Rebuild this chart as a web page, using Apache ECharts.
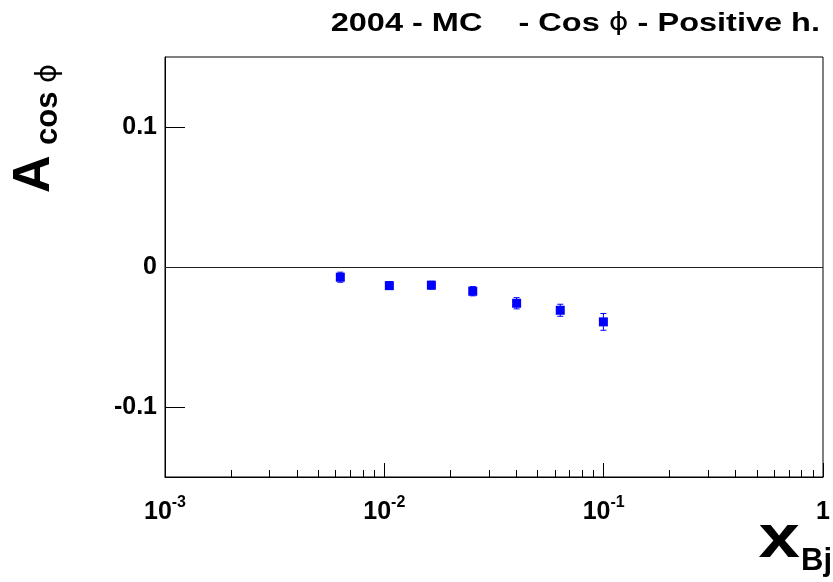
<!DOCTYPE html>
<html>
<head>
<meta charset="utf-8">
<script src="https://cdn.jsdelivr.net/npm/echarts@6/dist/echarts.min.js"></script>
<style>
html,body{margin:0;padding:0;background:#fff;}
#chart{width:833px;height:582px;}
</style>
</head>
<body>
<div id="chart"></div>
<script>
// ---- data ----
var xValues = [0.0063, 0.01054, 0.01639, 0.0253, 0.0401, 0.0634, 0.0997];
var yValues = [-0.0073, -0.0133, -0.0130, -0.0173, -0.0259, -0.0309, -0.0392];
var yErrors = [0.0036, 0.0028, 0.0028, 0.0033, 0.0040, 0.0043, 0.0060];

var xTickValues = [0.001, 0.01, 0.1, 1];
var xTickExponents = [-3, -2, -1, 0];
var xMinorTickValues = [
  0.002, 0.003, 0.004, 0.005, 0.006, 0.007, 0.008, 0.009,
  0.02, 0.03, 0.04, 0.05, 0.06, 0.07, 0.08, 0.09,
  0.2, 0.3, 0.4, 0.5, 0.6, 0.7, 0.8, 0.9
];
var yTickValues = [-0.1, 0, 0.1];
var yTickLabels = ['-0.1', '0', '0.1'];

var titleLeft = '2004 - MC    - Cos ';
var titlePhi = '\u03D5';
var titleRight = ' - Positive h.';
var yNameMain = 'A';
var yNameSub = 'cos ';
var yNamePhi = '\u03D5';
var xNameMain = 'x';
var xNameSub = 'Bj';

var FONT = '"Liberation Sans", Arial, Helvetica, sans-serif';
var PHIFONT = '"DejaVu Sans", "Liberation Sans", sans-serif';

var chart = echarts.init(document.getElementById('chart'), null, {renderer: 'canvas'});

var option = {
  backgroundColor: '#ffffff',
  animation: false,
  grid: {
    left: 165, right: 10, top: 57, bottom: 105,
    show: true, borderColor: '#000', borderWidth: 1, backgroundColor: 'transparent'
  },
  xAxis: [{
    type: 'log', logBase: 10, min: 0.001, max: 1,
    position: 'bottom',
    axisLine: {show: true, onZero: false, lineStyle: {color: '#000', width: 1}},
    axisTick: {show: true, inside: true, length: 14, customValues: xTickValues, lineStyle: {color: '#000', width: 1}},
    minorTick: {show: false},
    splitLine: {show: false},
    axisLabel: {
      show: true, margin: 18, customValues: xTickValues,
      formatter: function (v) {
        var i = -1;
        for (var k = 0; k < xTickValues.length; k++) {
          if (Math.abs(Math.log10(xTickValues[k]) - Math.log10(v)) < 1e-6) i = k;
        }
        var e = i >= 0 ? xTickExponents[i] : Math.round(Math.log10(v));
        if (e === 0) return '{b|1}';
        return '{b|10}{s|' + e + '}';
      },
      rich: {
        b: {fontFamily: FONT, fontWeight: 'bold', fontSize: 25, color: '#000', lineHeight: 30, verticalAlign: 'bottom'},
        s: {fontFamily: FONT, fontWeight: 'bold', fontSize: 16, color: '#000', lineHeight: 30, verticalAlign: 'top'}
      }
    }
  }, {
    type: 'log', logBase: 10, min: 0.001, max: 1,
    position: 'bottom',
    axisLine: {show: false, onZero: false},
    axisTick: {show: true, inside: true, length: 7, customValues: xMinorTickValues, lineStyle: {color: '#000', width: 1}},
    axisLabel: {show: false},
    splitLine: {show: false}
  }],
  yAxis: {
    type: 'value', min: -0.15, max: 0.15,
    axisLine: {show: true, onZero: false, lineStyle: {color: '#000', width: 1}},
    axisTick: {show: true, inside: true, length: 20, customValues: yTickValues, lineStyle: {color: '#000', width: 1}},
    splitLine: {show: false},
    axisLabel: {
      show: true, margin: 8, customValues: yTickValues,
      formatter: function (v) {
        var i = yTickValues.findIndex(function (t) { return Math.abs(t - v) < 1e-9; });
        return i >= 0 ? yTickLabels[i] : '';
      },
      fontFamily: FONT, fontWeight: 'bold', fontSize: 25, color: '#000'
    }
  },
  series: [{
    type: 'custom',
    xAxisIndex: 0,
    data: xValues.map(function (x, i) { return [x, yValues[i], yErrors[i]]; }),
    renderItem: function (params, api) {
      var x = api.value(0), y = api.value(1), e = api.value(2);
      var top = api.coord([x, y + e]);
      var bot = api.coord([x, y - e]);
      var st = {stroke: '#0000ff', lineWidth: 1};
      return {
        type: 'group',
        children: [
          {type: 'line', shape: {x1: top[0], y1: top[1], x2: bot[0], y2: bot[1]}, style: st},
          {type: 'line', shape: {x1: top[0] - 3, y1: top[1], x2: top[0] + 3, y2: top[1]}, style: st},
          {type: 'line', shape: {x1: bot[0] - 3, y1: bot[1], x2: bot[0] + 3, y2: bot[1]}, style: st}
        ]
      };
    },
    z: 2,
    markLine: {
      silent: true, symbol: 'none', label: {show: false},
      lineStyle: {color: '#222', width: 1.2, type: 'solid'},
      data: [{yAxis: 0}]
    }
  }, {
    type: 'scatter',
    xAxisIndex: 0,
    symbol: 'rect', symbolSize: 9,
    itemStyle: {color: '#0000ff', opacity: 1},
    data: xValues.map(function (x, i) { return [x, yValues[i]]; }),
    z: 3
  }],
  graphic: [
    {type: 'text', x: 820, y: 9, scaleX: 1.25,
     style: {
       text: '{t|' + titleLeft + '}{p|' + titlePhi + '}{t|' + titleRight + '}',
       align: 'right', verticalAlign: 'top',
       rich: {
         t: {fontFamily: FONT, fontWeight: 'bold', fontSize: 26, color: '#000', lineHeight: 30},
         p: {fontFamily: PHIFONT, fontWeight: 'normal', fontSize: 24, color: '#000', lineHeight: 30}
       }
     }},
    {type: 'text', x: 9, y: 193, rotation: Math.PI / 2,
     style: {text: yNameMain, font: 'bold 52px ' + FONT, fill: '#000', align: 'left', verticalAlign: 'top'}},
    {type: 'text', x: 31, y: 145, rotation: Math.PI / 2,
     style: {
       text: '{t|' + yNameSub + '}{p|' + yNamePhi + '}',
       align: 'left', verticalAlign: 'top',
       rich: {
         t: {fontFamily: FONT, fontWeight: 'bold', fontSize: 31, color: '#000', lineHeight: 34},
         p: {fontFamily: PHIFONT, fontWeight: 'normal', fontSize: 29, color: '#000', lineHeight: 34}
       }
     }},
    {type: 'text', x: 800, y: 509, scaleX: 1.2,
     style: {text: xNameMain, font: 'bold 62px ' + FONT, fill: '#000', align: 'right', verticalAlign: 'top'}},
    {type: 'text', x: 801, y: 546,
     style: {text: xNameSub, font: 'bold 31px ' + FONT, fill: '#000', align: 'left', verticalAlign: 'top'}}
  ]
};
chart.setOption(option);
</script>
</body>
</html>
